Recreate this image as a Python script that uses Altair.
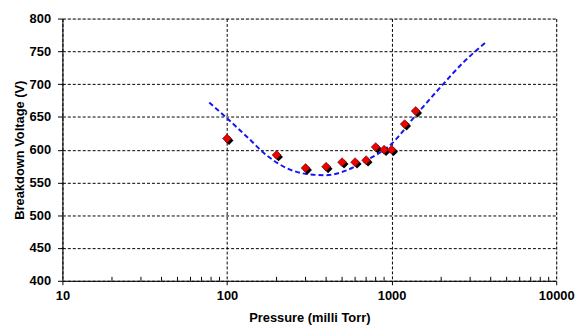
import altair as alt
import pandas as pd

# measured points
pressure = [100, 200, 300, 400, 500, 600, 700, 800, 900, 1000, 1200, 1400]
voltage = [617, 592, 572, 574, 581, 581, 584, 604, 600, 600, 639, 659]

# fitted curve
fit_p = [78, 100, 133, 175, 230, 303, 400, 526, 693, 1000, 1387, 1991, 2749, 3745]
fit_v = [672, 648, 619, 591, 572, 563, 561, 568, 583, 609, 651, 696, 734, 764]

x_major = [10, 100, 1000, 10000]
x_minor = [20, 30, 40, 50, 60, 70, 80, 90,
           200, 300, 400, 500, 600, 700, 800, 900,
           2000, 3000, 4000, 5000, 6000, 7000, 8000, 9000]
y_ticks = [400, 450, 500, 550, 600, 650, 700, 750, 800]

pts = pd.DataFrame({"p": pressure, "v": voltage})
fit = pd.DataFrame({"p": fit_p, "v": fit_v})
minor = pd.DataFrame({"p": x_minor, "v0": [400] * len(x_minor), "v1": [406] * len(x_minor)})

FONT = "Liberation Sans"

xscale = alt.Scale(type="log", domain=[10, 10000], nice=False)
yscale = alt.Scale(domain=[400, 800], nice=False, zero=False)

xaxis = alt.Axis(values=x_major, format="d", title="Pressure (milli Torr)",
                 grid=True, gridColor="black", gridDash=[3, 2], gridWidth=1,
                 domainColor="black", tickColor="black", tickSize=4,
                 labelPadding=5, titlePadding=9,
                 labelFont=FONT, labelFontSize=13, labelFontWeight="bold", labelColor="black",
                 titleFont=FONT, titleFontSize=13, titleFontWeight="bold", titleColor="black",
                 labelFlush=False, labelOverlap=False)
yaxis = alt.Axis(values=y_ticks, title="Breakdown Voltage (V)",
                 grid=True, gridColor="black", gridDash=[3, 2], gridWidth=1,
                 domainColor="black", tickColor="black", tickSize=5,
                 labelPadding=7, titlePadding=3,
                 labelFont=FONT, labelFontSize=13, labelFontWeight="bold", labelColor="black",
                 titleFont=FONT, titleFontSize=13, titleFontWeight="bold", titleColor="black",
                 labelOverlap=False)

X = alt.X("p:Q", scale=xscale, axis=xaxis)
Y = alt.Y("v:Q", scale=yscale, axis=yaxis)

minor_ticks = alt.Chart(minor).mark_rule(color="black", strokeWidth=1).encode(
    x=X,
    y=alt.Y("v0:Q", scale=yscale, axis=yaxis),
    y2="v1:Q",
)

curve = alt.Chart(fit).mark_line(color="#1414F5", strokeWidth=2, strokeDash=[5, 3],
                                  interpolate="monotone").encode(x=X, y=Y)

shadow = alt.Chart(pts).mark_point(shape="diamond", filled=True, color="black",
                                   size=80, xOffset=2, yOffset=2, opacity=1).encode(x=X, y=Y)

dots = alt.Chart(pts).mark_point(shape="diamond", filled=True, fill="#EE0000",
                                 stroke="#550000", strokeWidth=0.6, size=80, opacity=1).encode(x=X, y=Y)

chart = alt.layer(minor_ticks, curve, shadow, dots).properties(
    width=499, height=265,
    autosize=alt.AutoSizeParams(type="none"),
    padding={"left": 55, "top": 9, "right": 20, "bottom": 44},
).configure_view(stroke="#A0A0A0", strokeWidth=1).configure(background="white")

chart.save("out.html", embed_options={"renderer": "svg", "actions": False})
